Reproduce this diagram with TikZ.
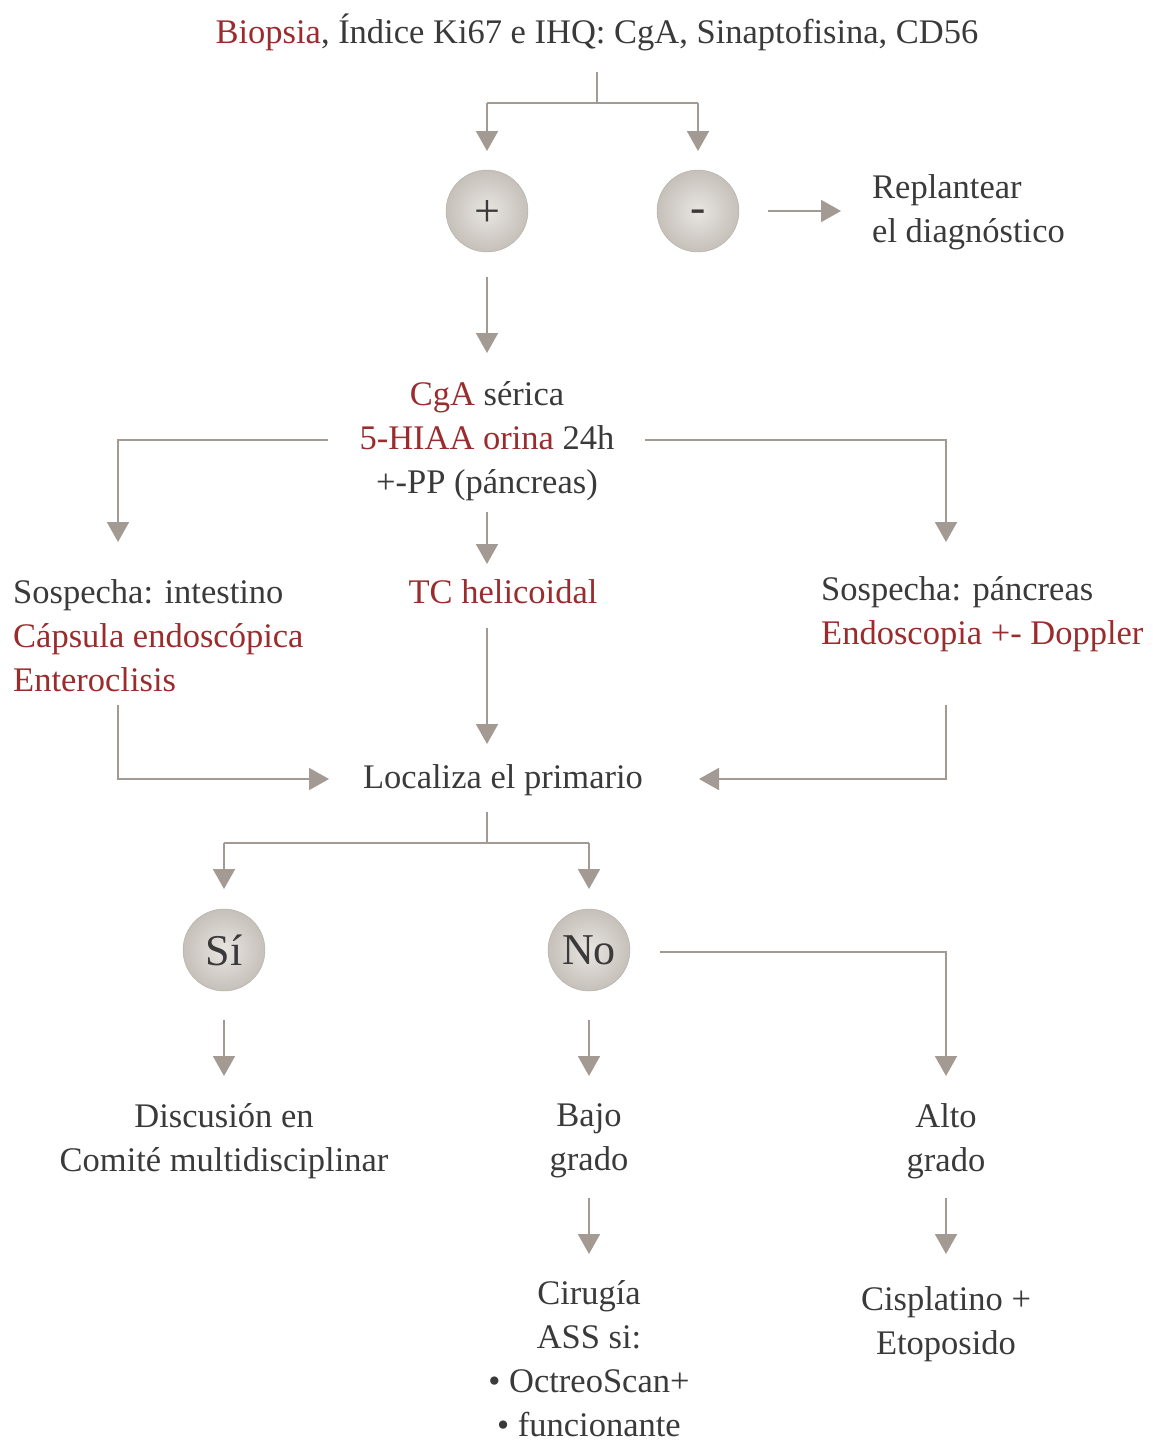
\documentclass[tikz,border=0pt]{standalone}
\usepackage{fontspec}
\setmainfont{Liberation Serif}
\usetikzlibrary{arrows.meta}
\definecolor{txtc}{HTML}{3A3A3A}
\definecolor{redc}{HTML}{9B2C2E}
\definecolor{linec}{HTML}{A39B93}
\definecolor{cin}{HTML}{E8E5E1}
\definecolor{cout}{HTML}{C6C0BA}
\newcommand{\rd}[1]{\textcolor{redc}{#1}}
\newcommand{\midsym}[2]{\smash{\raisebox{#1}{#2}}}
\tikzset{
  txt/.style={font=\fontsize{34.5}{44}\selectfont, text=txtc, inner sep=0pt},
  ln/.style={draw=linec, line width=2pt},
  arr/.style={ln, -{Triangle[width=22pt,length=20pt]}},
  ball/.style={circle, minimum size=82pt, inner sep=0pt, shade, inner color=cin, outer color=cout, draw=cout!90!black, line width=0.4pt, text=txtc},
  pmfont/.style={font=\fontsize{46}{46}\selectfont},
  ynfont/.style={font=\fontsize{44}{44}\selectfont}
}
\begin{document}
\begin{tikzpicture}[x=1pt,y=-1pt]
\useasboundingbox (0,0) rectangle (1168,1443);
% title
\node[txt] (title) at (597,32) {\rd{Biopsia}, Índice Ki67 e IHQ: CgA, Sinaptofisina, CD56};
\coordinate (t0) at (597,72);
\coordinate (t1) at (597,103);
\coordinate (tl) at (487,103);
\coordinate (tr) at (698,103);
\coordinate (tla) at (487,151);
\coordinate (tra) at (698,151);
\draw[ln] (t0) -- (t1);
\draw[ln] (tl) -- (tr);
\draw[arr] (tl) -- (tla);
\draw[arr] (tr) -- (tra);
% circles
\node[ball, pmfont] (pos) at (487,211) {\midsym{-15pt}{+}};
\node[ball, pmfont] (neg) at (698,211) {\midsym{-11pt}{-}};
\coordinate (n0) at (768,211);
\coordinate (n1) at (841,211);
\draw[arr] (n0) -- (n1);
\node[txt, anchor=west, align=left] (repl) at (872,212) {Replantear\\el diagnóstico};
\coordinate (p0) at (487,277);
\coordinate (p1) at (487,353);
\draw[arr] (p0) -- (p1);
% CgA block
\node[txt, align=center] (cga) at (487,441) {\rd{CgA} sérica\\\rd{5-HIAA orina} 24h\\+-PP (páncreas)};
\coordinate (cl0) at (328,440);
\coordinate (cl1) at (118,440);
\coordinate (cl2) at (118,542);
\coordinate (cr0) at (645,440);
\coordinate (cr1) at (946,440);
\coordinate (cr2) at (946,542);
\draw[arr] (cl0) -- (cl1) -- (cl2);
\draw[arr] (cr0) -- (cr1) -- (cr2);
\coordinate (cm0) at (487,512);
\coordinate (cm1) at (487,564);
\draw[arr] (cm0) -- (cm1);
% second row
\node[txt, anchor=west, align=left] (intes) at (13,636) {Sospecha: intestino\\\rd{Cápsula endoscópica}\\\rd{Enteroclisis}};
\node[txt] (tc) at (503,592) {\rd{TC helicoidal}};
\node[txt, anchor=west, align=left] (panc) at (821,614) {Sospecha: páncreas\\\rd{Endoscopia +- Doppler}};
\coordinate (tc0) at (487,628);
\coordinate (tc1) at (487,744);
\draw[arr] (tc0) -- (tc1);
\node[txt] (loc) at (503,780) {Localiza el primario};
\coordinate (il0) at (118,705);
\coordinate (il1) at (118,779);
\coordinate (il2) at (329,779);
\draw[arr] (il0) -- (il1) -- (il2);
\coordinate (pr0) at (946,705);
\coordinate (pr1) at (946,779);
\coordinate (pr2) at (699,779);
\draw[arr] (pr0) -- (pr1) -- (pr2);
\coordinate (l0) at (487,812);
\coordinate (l1) at (487,843);
\coordinate (ll) at (224,843);
\coordinate (lr) at (589,843);
\coordinate (lla) at (224,889);
\coordinate (lra) at (589,889);
\draw[ln] (l0) -- (l1);
\draw[ln] (ll) -- (lr);
\draw[arr] (ll) -- (lla);
\draw[arr] (lr) -- (lra);
% si / no
\node[ball, ynfont] (si) at (224,950) {Sí};
\node[ball, ynfont] (no) at (589,950) {No};
\coordinate (a0) at (660,952);
\coordinate (a1) at (946,952);
\coordinate (a2) at (946,1076);
\draw[arr] (a0) -- (a1) -- (a2);
\coordinate (s0) at (224,1020);
\coordinate (s1) at (224,1076);
\draw[arr] (s0) -- (s1);
\coordinate (b0) at (589,1020);
\coordinate (b1) at (589,1076);
\draw[arr] (b0) -- (b1);
\node[txt, align=center] (disc) at (224,1141) {Discusión en\\Comité multidisciplinar};
\node[txt, align=center] (bajo) at (589,1141) {Bajo\\grado};
\node[txt, align=center] (alto) at (946,1141) {Alto\\grado};
\coordinate (c0) at (589,1198);
\coordinate (c1) at (589,1254);
\draw[arr] (c0) -- (c1);
\coordinate (d0) at (946,1198);
\coordinate (d1) at (946,1254);
\draw[arr] (d0) -- (d1);
\node[txt, align=center] (ciru) at (589,1359) {Cirugía\\ASS si:\\• OctreoScan+\\• funcionante};
\node[txt, align=center] (cisp) at (946,1324) {Cisplatino +\\Etoposido};
\end{tikzpicture}
\end{document}
